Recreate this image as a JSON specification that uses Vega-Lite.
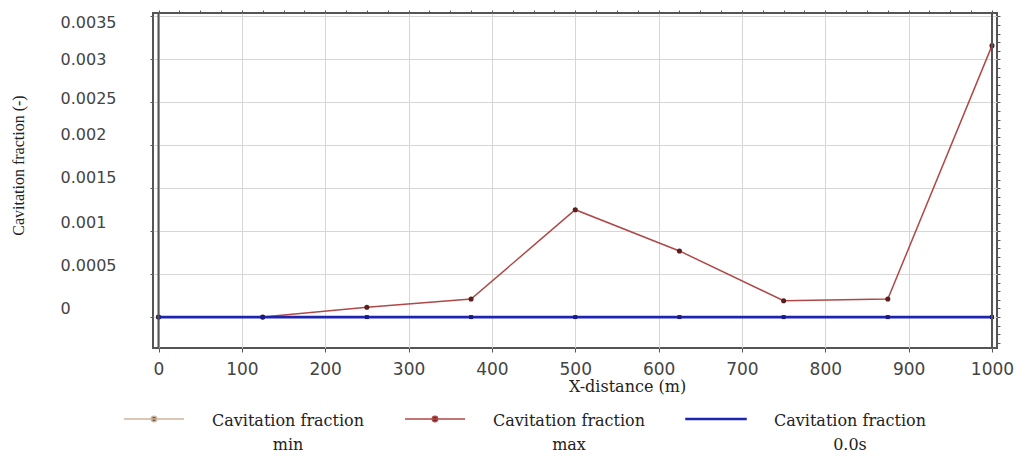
{
  "$schema": "https://vega.github.io/schema/vega-lite/v6.json",
  "width": 844,
  "height": 335,
  "autosize": {"type": "none"},
  "padding": {"left": 153, "top": 13, "right": 20, "bottom": 108},
  "background": "#ffffff",
  "config": {
    "view": {"stroke": "#555555", "strokeWidth": 2},
    "axis": {"domain": false}
  },
  "datasets": {
    "profile": [
      {"x": 0, "series": "min", "value": 0},
      {"x": 125, "series": "min", "value": 0},
      {"x": 250, "series": "min", "value": 0},
      {"x": 375, "series": "min", "value": 0},
      {"x": 500, "series": "min", "value": 0},
      {"x": 625, "series": "min", "value": 0},
      {"x": 750, "series": "min", "value": 0},
      {"x": 875, "series": "min", "value": 0},
      {"x": 1000, "series": "min", "value": 0},
      {"x": 0, "series": "max", "value": 0},
      {"x": 125, "series": "max", "value": 0},
      {"x": 250, "series": "max", "value": 0.000115},
      {"x": 375, "series": "max", "value": 0.00021},
      {"x": 500, "series": "max", "value": 0.00125},
      {"x": 625, "series": "max", "value": 0.00077},
      {"x": 750, "series": "max", "value": 0.00019},
      {"x": 875, "series": "max", "value": 0.00021},
      {"x": 1000, "series": "max", "value": 0.00316},
      {"x": 0, "series": "0.0s", "value": 0},
      {"x": 125, "series": "0.0s", "value": 0},
      {"x": 250, "series": "0.0s", "value": 0},
      {"x": 375, "series": "0.0s", "value": 0},
      {"x": 500, "series": "0.0s", "value": 0},
      {"x": 625, "series": "0.0s", "value": 0},
      {"x": 750, "series": "0.0s", "value": 0},
      {"x": 875, "series": "0.0s", "value": 0},
      {"x": 1000, "series": "0.0s", "value": 0}
    ]
  },
  "layer": [
    {
      "data": {"name": "profile"},
      "transform": [{"filter": "datum.series !== '0.0s'"}],
      "mark": {"type": "line", "interpolate": "linear", "strokeWidth": 1.5},
      "encoding": {
        "x": {
          "field": "x", "type": "quantitative",
          "scale": {"domain": [-6.6, 1006], "nice": false, "zero": false},
          "axis": {
            "values": [0, 100, 200, 300, 400, 500, 600, 700, 800, 900, 1000],
            "format": "d",
            "grid": true, "gridColor": "#d6d6d6", "gridWidth": 1,
            "ticks": true, "tickSize": 4, "tickColor": "#555555",
            "labelFont": "DejaVu Sans", "labelFontSize": 17, "labelColor": "#444444",
            "labelPadding": 9, "labelFlush": false, "labelOverlap": false,
            "title": "X-distance (m)",
            "titleFont": "DejaVu Serif", "titleFontSize": 16, "titleFontWeight": "normal",
            "titleColor": "#222222", "titleX": 474, "titleY": 38, "titleBaseline": "middle"
          }
        },
        "y": {
          "field": "value", "type": "quantitative",
          "scale": {"domain": [-0.00036, 0.00354], "nice": false, "zero": false},
          "axis": {
            "values": [0, 0.0005, 0.001, 0.0015, 0.002, 0.0025, 0.003, 0.0035],
            "format": "~g",
            "grid": true, "gridColor": "#d6d6d6", "gridWidth": 1,
            "ticks": true, "tickSize": 3, "tickColor": "#555555",
            "labelFont": "DejaVu Sans", "labelFontSize": 16, "labelColor": "#444444",
            "labelAlign": "left", "labelPadding": 90,
            "labelOffset": {
              "condition": [
                {"test": "datum.value > 0.0034", "value": 6},
                {"test": "datum.value > 0.0029", "value": 0},
                {"test": "datum.value > 0.0024", "value": -4},
                {"test": "datum.value > 0.0014", "value": -11}
              ],
              "value": -9
            },
            "labelFlush": false, "labelOverlap": false,
            "title": "Cavitation fraction (-)",
            "titleFont": "Liberation Serif", "titleFontSize": 16, "titleFontWeight": "normal",
            "titleColor": "#222222", "titleX": -135, "titleY": 152, "titleBaseline": "middle"
          }
        },
        "color": {
          "field": "series", "type": "nominal",
          "scale": {"domain": ["min", "max", "0.0s"], "range": ["#cdb59a", "#b04848", "#1c24b0"]},
          "legend": {
            "orient": "none", "legendX": -30, "legendY": 375,
            "direction": "horizontal", "columns": 3, "columnPadding": 37,
            "title": null,
            "symbolSize": 3600, "symbolStrokeWidth": 1.5,
            "labelFont": "DejaVu Serif", "labelFontSize": 16, "labelColor": "#222222",
            "labelAlign": "center", "labelOffset": 103, "labelLimit": 400,
            "labelBaseline": "top",
            "labelExpr": "['Cavitation fraction', datum.label]",
            "encode": {
              "symbols": {
                "update": {
                  "shape": {"signal": "datum.value === '0.0s' ? 'M-1,-0.02H1V0.02H-1Z' : 'M-1,0H1M0.09,0A0.09,0.09,0,1,1,-0.09,0A0.09,0.09,0,1,1,0.09,0Z'"},
                  "fill": {"signal": "datum.value === 'min' ? '#5a4030' : datum.value === 'max' ? '#5a1e1e' : '#1c24b0'"},
                  "fillOpacity": {"value": 1}
                }
              },
              "labels": {
                "update": {
                  "lineHeight": {"value": 24},
                  "dy": {"value": -6}
                }
              }
            }
          }
        },
        "order": {"field": "x", "type": "quantitative"}
      }
    },
    {
      "data": {"name": "profile"},
      "transform": [{"filter": "datum.series === 'max'"}],
      "mark": {"type": "point", "shape": "circle", "filled": true, "size": 26, "color": "#5a1e1e", "opacity": 1},
      "encoding": {
        "x": {"field": "x", "type": "quantitative", "axis": null},
        "y": {"field": "value", "type": "quantitative", "axis": null}
      }
    },
    {
      "data": {"name": "profile"},
      "transform": [{"filter": "datum.series === '0.0s'"}],
      "mark": {"type": "line", "interpolate": "linear", "strokeWidth": 2.6, "color": "#1c24b0"},
      "encoding": {
        "x": {"field": "x", "type": "quantitative", "axis": null},
        "y": {"field": "value", "type": "quantitative", "axis": null},
        "order": {"field": "x", "type": "quantitative"}
      }
    },
    {
      "data": {"name": "profile"},
      "transform": [{"filter": "datum.series === '0.0s'"}],
      "mark": {"type": "point", "shape": "square", "filled": true, "size": 16, "color": "#1a1a80", "opacity": 1},
      "encoding": {
        "x": {
          "field": "x", "type": "quantitative",
          "axis": {
            "values": [0, 25, 50, 75, 100, 125, 150, 175, 200, 225, 250, 275, 300, 325, 350, 375, 400, 425, 450, 475, 500, 525, 550, 575, 600, 625, 650, 675, 700, 725, 750, 775, 800, 825, 850, 875, 900, 925, 950, 975, 1000],
            "labels": false, "grid": false, "ticks": true, "tickSize": 3, "tickColor": "#555555", "title": null
          }
        },
        "y": {
          "field": "value", "type": "quantitative",
          "axis": {
            "values": [-0.0003, -0.0002, -0.0001, 0, 0.0001, 0.0002, 0.0003, 0.0004, 0.0005, 0.0006, 0.0007, 0.0008, 0.0009, 0.001, 0.0011, 0.0012, 0.0013, 0.0014, 0.0015, 0.0016, 0.0017, 0.0018, 0.0019, 0.002, 0.0021, 0.0022, 0.0023, 0.0024, 0.0025, 0.0026, 0.0027, 0.0028, 0.0029, 0.003, 0.0031, 0.0032, 0.0033, 0.0034, 0.0035],
            "labels": false, "grid": false, "ticks": true, "tickSize": 3, "tickColor": "#555555", "title": null
          }
        }
      }
    },
    {
      "data": {"values": [{"x": 0}, {"x": 1000}]},
      "mark": {"type": "rule", "color": "#555555", "strokeWidth": 2},
      "encoding": {
        "x": {"field": "x", "type": "quantitative", "axis": null}
      }
    }
  ],
  "resolve": {"axis": {"x": "independent", "y": "independent"}}
}
